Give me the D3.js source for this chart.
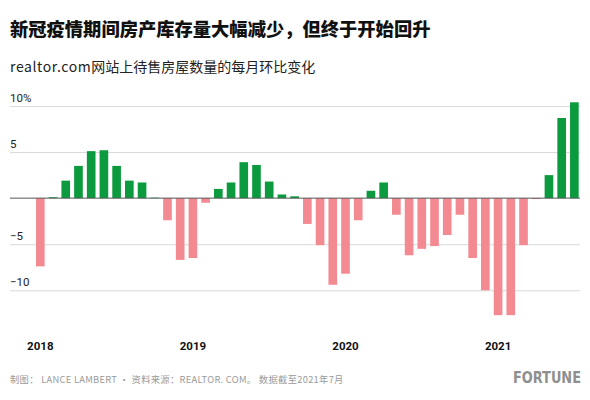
<!DOCTYPE html>
<html>
<head>
<meta charset="utf-8">
<script src="https://cdn.jsdelivr.net/npm/d3@7"></script>
<style>
  body { margin: 0; background: #fff; }
  svg { display: block; font-family: "Noto Sans CJK SC", "Noto Sans", sans-serif; }
</style>
</head>
<body>
<svg id="chart" width="590" height="400"></svg>
<script>
// monthly change in listings, Jan 2018 - Jul 2021 (%)
const months = d3.range(43).map(i => new Date(2018, i, 1));
const values = [
  -7.4, 0.1, 1.9, 3.5, 5.1, 5.2, 3.5, 1.9, 1.7, 0.05, -2.4, -6.7,
  -6.5, -0.5, 1.0, 1.7, 3.9, 3.6, 1.8, 0.4, 0.2, -2.8, -5.1, -9.4,
  -8.2, -2.4, 0.8, 1.7, -1.8, -6.2, -5.5, -5.2, -4.0, -1.8, -6.5, -10.0,
  -12.7, -12.7, -5.1, -0.1, 2.5, 8.7, 10.4
];
const yTicks = [10, 5, -5, -10];
const yearLabels = ["2018", "2019", "2020", "2021"];

const svg = d3.select("#chart");

const x = d3.scaleBand()
  .domain(months.map((d, i) => i))
  .range([36, 578.7])
  .paddingInner(0.32)
  .paddingOuter(0);

const y = d3.scaleLinear().domain([-10, 10]).range([290.3, 106]);

// title + subtitle
svg.append("text")
  .attr("x", 10).attr("y", 36)
  .attr("font-size", 18.3).attr("font-weight", 900).attr("fill", "#111")
  .text("新冠疫情期间房产库存量大幅减少，但终于开始回升");

const sub = svg.append("text")
  .attr("x", 10).attr("y", 72)
  .attr("font-size", 14).attr("fill", "#222");
sub.append("tspan").attr("letter-spacing", 0.6).text("realtor.com");
sub.append("tspan").text("网站上待售房屋数量的每月环比变化");

// grid
const grid = svg.append("g")
  .attr("transform", "translate(10,0)")
  .call(d3.axisRight(y).tickValues(yTicks).tickSize(570).tickFormat(""));
grid.select(".domain").remove();
grid.selectAll(".tick line").attr("stroke", "#d9d9d9");

grid.selectAll(".tick").append("text")
  .attr("x", 0).attr("y", -5)
  .attr("fill", "#222").attr("font-size", 11.5)
  .attr("font-family", "Roboto, 'Noto Sans', sans-serif")
  .attr("text-anchor", "start")
  .text(d => d === 10 ? "10%" : d3.format("")(d).replace("-", "\u2212"));

// bars
svg.append("g").selectAll("rect")
  .data(values)
  .join("rect")
  .attr("x", (d, i) => x(i))
  .attr("width", x.bandwidth())
  .attr("y", d => y(Math.max(0, d)))
  .attr("height", d => Math.abs(y(d) - y(0)))
  .attr("fill", d => d >= 0 ? "#0b9a3d" : "#f38a91");

// zero line
svg.append("line")
  .attr("x1", 10).attr("x2", 580)
  .attr("y1", y(0)).attr("y2", y(0))
  .attr("stroke", "#555").attr("stroke-width", 1);

// year labels on January bars
svg.append("g").selectAll("text")
  .data(yearLabels)
  .join("text")
  .attr("x", (d, i) => x(i * 12) + x.bandwidth() / 2)
  .attr("y", 350)
  .attr("text-anchor", "middle")
  .attr("font-size", 11.5).attr("font-weight", 700).attr("fill", "#111")
  .attr("font-family", "Roboto, 'Noto Sans', sans-serif")
  .text(d => d);

// footer
svg.append("text")
  .attr("x", 10).attr("y", 383)
  .attr("font-size", 9.3).attr("fill", "#9a9a9a")
  .attr("letter-spacing", 0.3)
  .text("制图： LANCE LAMBERT · 资料来源：REALTOR. COM。 数据截至2021年7月");

// logo, squeezed horizontally to the narrow wordmark
svg.append("text")
  .attr("transform", "translate(581,383) scale(0.87,1)")
  .attr("text-anchor", "end")
  .attr("font-family", "'Liberation Sans Narrow', 'DejaVu Sans Condensed', sans-serif")
  .attr("font-size", 16.5).attr("font-weight", 700).attr("fill", "#8f8f8f")
  .text("FORTUNE");
</script>
</body>
</html>
